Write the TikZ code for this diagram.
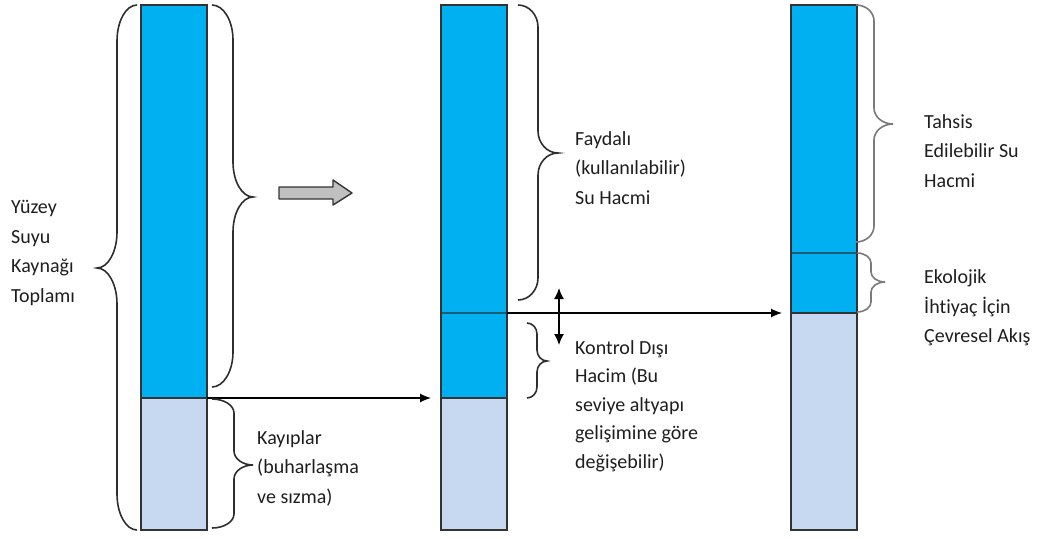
\documentclass[tikz,border=0pt]{standalone}
\usepackage{fontspec}
\setmainfont{Carlito}[Ligatures={NoCommon}]
\usetikzlibrary{arrows.meta}
\definecolor{water}{HTML}{00B0F0}
\definecolor{loss}{HTML}{C6D9F1}
\definecolor{edge}{HTML}{333333}
\definecolor{level}{HTML}{1D5C78}
\definecolor{txt}{HTML}{1E1E1E}
\definecolor{bracedark}{HTML}{2E2E2E}
\definecolor{bracegray}{HTML}{7A7A7A}
\definecolor{blockfill}{HTML}{C0C0C0}

% curly brace: style, end x, spine x, tip x, top y, tip y, bottom y, corner radius
\newcommand\wbrace[8]{%
  \draw[#1] (#2,#5) .. controls ({#2+0.55*(#3-#2)},#5) and (#3,{#5+0.45*#8}) .. (#3,{#5+#8})
    -- (#3,{#6-#8}) .. controls (#3,{#6-0.45*#8}) and ({#4-0.55*(#4-#3)},#6) .. (#4,#6)
    .. controls ({#4-0.55*(#4-#3)},#6) and (#3,{#6+0.45*#8}) .. (#3,{#6+#8})
    -- (#3,{#7-#8}) .. controls (#3,{#7-0.45*#8}) and ({#2+0.55*(#3-#2)},#7) .. (#2,#7);}

\tikzset{
  colborder/.style={draw=edge, line width=1.3pt},
  levelline/.style={draw=level, line width=2pt},
  flow/.style={draw=black, line width=1.2pt, -{Latex[length=11pt,width=9pt]}},
  levelshift/.style={draw=black, line width=1.4pt, {Latex[length=11pt,width=10pt]}-{Latex[length=11pt,width=10pt]}},
  darkbrace/.style={draw=bracedark, line width=1.6pt},
  graybrace/.style={draw=bracegray, line width=1.6pt},
  label/.style={anchor=west, align=left, inner sep=0pt, text=txt,
    font=\fontsize{20}{29.5}\selectfont},
  blockarrow/.style={draw=edge, fill=blockfill, line width=1.4pt, line join=round}
}

\begin{document}
\begin{tikzpicture}[x=1pt, y=-1pt]
\useasboundingbox (0,0) rectangle (1046,538);

% columns
\fill[water] (141,5) rectangle (207,398);
\fill[loss] (141,398) rectangle (207,530);
\draw[edge, line width=1.3pt] (141,398) -- (207,398);
\draw[colborder] (141,5) rectangle (207,530);

\fill[water] (441,5) rectangle (507,398);
\fill[loss] (441,398) rectangle (507,530);
\draw[edge, line width=1.3pt] (441,398) -- (507,398);
\draw[levelline] (441,313) -- (507,313);
\draw[colborder] (441,5) rectangle (507,530);

\fill[water] (791,5) rectangle (857,313);
\fill[loss] (791,313) rectangle (857,530);
\draw[edge, line width=1.3pt] (791,313) -- (857,313);
\draw[levelline] (791,253) -- (857,253);
\draw[colborder] (791,5) rectangle (857,530);

% connector end points
\coordinate (lossA) at (207,398);
\coordinate (lossB) at (431,398);
\coordinate (ctrlB) at (507,313);
\coordinate (ecoC) at (782,313);
\coordinate (shiftTop) at (559,288);
\coordinate (shiftBot) at (559,345);

\draw[flow] (lossA) -- (lossB);
\draw[flow] (ctrlB) -- (ecoC);
\draw[levelshift] (shiftTop) -- (shiftBot);

% block arrow between first and second column
\draw[blockarrow] (279,187) -- (333,187) -- (333,180) -- (352,193) -- (333,205) -- (333,199) -- (279,199) -- cycle;

% braces
\wbrace{darkbrace}{137}{117}{97}{5}{268}{530}{36}
\wbrace{darkbrace}{212}{233}{253}{5}{197}{387}{35}
\wbrace{darkbrace}{212}{234}{253}{399}{465}{528}{14}
\wbrace{darkbrace}{518}{538}{558}{5}{153}{300}{22}
\wbrace{darkbrace}{527}{537}{547}{323}{361}{398}{11}
\wbrace{graybrace}{856}{874}{893}{5}{124}{242}{16}
\wbrace{graybrace}{857}{871}{885}{253}{282}{312}{10}

% labels
\node[label] (total) at (11,253) {Yüzey\\Suyu\\Kaynağı\\Toplamı};
\node[label] (useful) at (575,168) {Faydalı\\(kullanılabilir)\\Su Hacmi};
\node[label] (alloc) at (924,151) {Tahsis\\Edilebilir Su\\Hacmi};
\node[label] (eco) at (924,308) {Ekolojik\\İhtiyaç İçin\\Çevresel Akış};
\node[label] (losses) at (257,468) {Kayıplar\\(buharlaşma\\ve sızma)};
\node[label, font=\fontsize{20}{28.5}\selectfont] (uncontrolled) at (575,406) {Kontrol Dışı\\Hacim (Bu\\seviye altyapı\\gelişimine göre\\değişebilir)};
\end{tikzpicture}
\end{document}
